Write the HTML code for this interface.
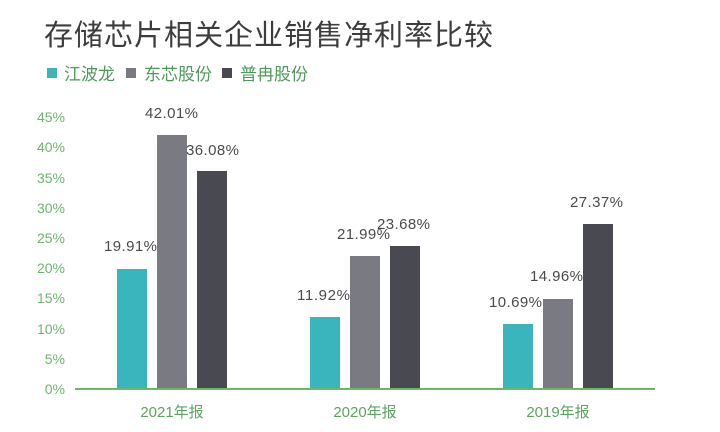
<!DOCTYPE html>
<html><head><meta charset="utf-8"><style>
html,body{margin:0;padding:0;background:#fff;}
svg{display:block;}
</style></head><body>
<svg width="720" height="432" xmlns="http://www.w3.org/2000/svg" font-family="Liberation Sans, Noto Sans CJK SC, sans-serif">
<rect width="720" height="432" fill="#fff"/>
<text x="44" y="45" font-size="29" fill="#3d3d3d" font-family="Noto Sans CJK SC, sans-serif" textLength="449">存储芯片相关企业销售净利率比较</text>
<g font-size="17" fill="#4e9a58" font-family="Noto Sans CJK SC, sans-serif">
<rect x="47" y="68" width="10" height="10" fill="#3bb5bc"/><text x="64" y="80">江波龙</text>
<rect x="126" y="68" width="10" height="10" fill="#7a7b82"/><text x="144" y="80">东芯股份</text>
<rect x="222" y="68" width="10" height="10" fill="#494a51"/><text x="240" y="80">普冉股份</text>
</g>
<g font-size="14" fill="#6db56d" text-anchor="end">
<text x="65" y="394">0%</text><text x="65" y="364">5%</text><text x="65" y="334">10%</text><text x="65" y="303">15%</text><text x="65" y="273">20%</text><text x="65" y="243">25%</text><text x="65" y="213">30%</text><text x="65" y="183">35%</text><text x="65" y="152">40%</text><text x="65" y="122">45%</text>
</g>
<g>
<rect x="117" y="269" width="30" height="120" fill="#3bb5bc"/>
<rect x="157" y="135" width="30" height="254" fill="#7a7b82"/>
<rect x="197" y="171" width="30" height="218" fill="#494a51"/>
<rect x="310" y="317" width="30" height="72" fill="#3bb5bc"/>
<rect x="350" y="256" width="30" height="133" fill="#7a7b82"/>
<rect x="390" y="246" width="30" height="143" fill="#494a51"/>
<rect x="503" y="324" width="30" height="65" fill="#3bb5bc"/>
<rect x="543" y="299" width="30" height="90" fill="#7a7b82"/>
<rect x="583" y="224" width="30" height="165" fill="#494a51"/>
</g>
<line x1="75" y1="389" x2="655" y2="389" stroke="#6db56d" stroke-width="2"/>
<g font-size="15" fill="#4a4a4a" text-anchor="middle" letter-spacing="1">
<text x="131" y="251" textLength="54">19.91%</text>
<text x="172" y="118" textLength="54">42.01%</text>
<text x="213" y="155" textLength="54">36.08%</text>
<text x="324" y="300" textLength="54">11.92%</text>
<text x="364" y="239" textLength="54">21.99%</text>
<text x="404" y="229" textLength="54">23.68%</text>
<text x="516" y="307" textLength="54">10.69%</text>
<text x="557" y="281" textLength="54">14.96%</text>
<text x="597" y="207" textLength="54">27.37%</text>
</g>
<g font-size="15" fill="#5aa560" text-anchor="middle">
<text x="172" y="417">2021年报</text>
<text x="365" y="417">2020年报</text>
<text x="558" y="417">2019年报</text>
</g>
</svg>
</body></html>
